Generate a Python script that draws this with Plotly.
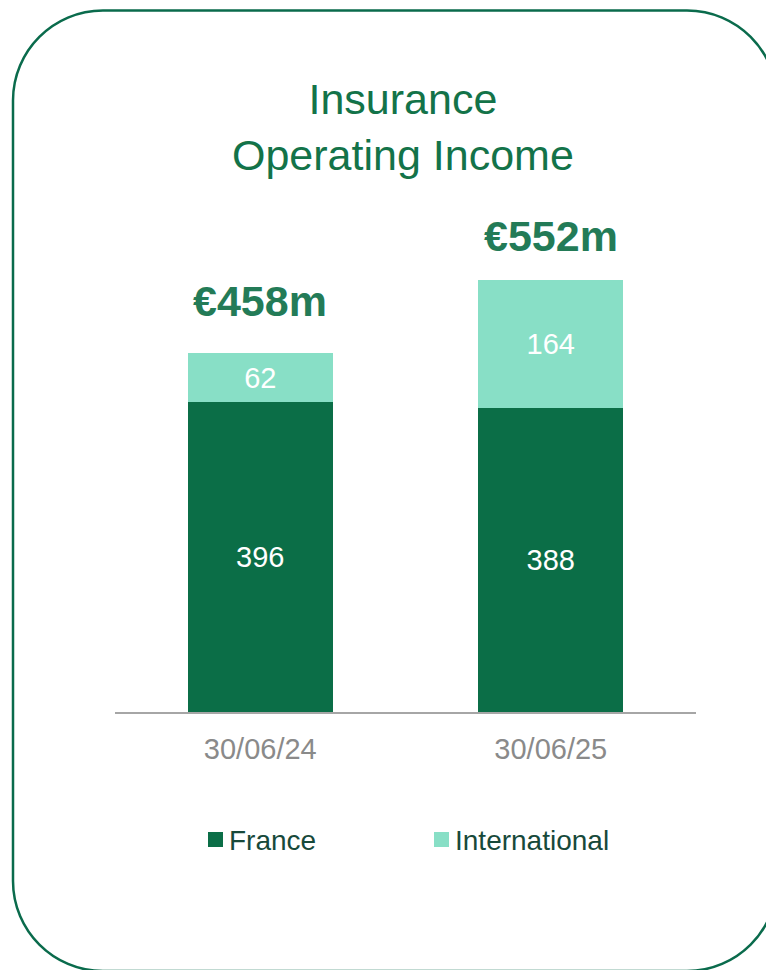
import plotly.graph_objects as go

# ---- data ----
categories = ["30/06/24", "30/06/25"]
france = [396, 388]
international = [62, 164]
totals = [458, 552]
total_labels = ["€458m", "€552m"]
series_names = ["France", "International"]

# ---- styling ----
OFF = 8  # page body margin
W, H = 774 - OFF, 970 - OFF
C_FR = "#0B6E47"
C_INT = "#88DFC6"
C_TITLE = "#137349"
C_TOTAL = "#237B57"
C_BORDER = "#0A6B4C"
C_TICK = "#8A8A8A"
C_LEG = "#17493A"
FONT = "Liberation Sans, Arial, sans-serif"

def px(x):
    return (x - OFF) / W

def py(y):
    return 1 - (y - OFF) / H

Y_MAX = 650
base_px = 712
scale = 0.7828
x_dom = [px(115), px(696)]
y_dom = [py(base_px), py(base_px - Y_MAX * scale)]

fig = go.Figure()
fig.add_trace(go.Bar(
    x=categories, y=france, name=series_names[0], marker_color=C_FR,
    marker_line_width=0, width=0.5,
    text=[str(v) for v in france], textposition="inside",
    insidetextanchor="middle", textangle=0,
    textfont=dict(color="white", size=29, family=FONT),
))
fig.add_trace(go.Bar(
    x=categories, y=international, name=series_names[1], marker_color=C_INT,
    marker_line_width=0, width=0.5,
    text=[str(v) for v in international], textposition="inside",
    insidetextanchor="middle", textangle=0,
    textfont=dict(color="white", size=29, family=FONT),
))

annotations = []
# totals above bars
for cat, tot, lab, shift in zip(categories, totals, total_labels, [52, 44]):
    annotations.append(dict(
        x=cat, y=tot, xref="x", yref="y", text=f"<b>{lab}</b>",
        showarrow=False, yshift=shift, yanchor="middle",
        font=dict(size=43, color=C_TOTAL, family=FONT),
    ))
# title
annotations.append(dict(
    x=px(403), y=py(127), xref="paper", yref="paper",
    text="Insurance<br>Operating Income", showarrow=False,
    xanchor="center", yanchor="middle", align="center",
    font=dict(size=43, color=C_TITLE, family=FONT),
))

shapes = []
# manual legend
leg_y = 840
for name, color, sx in [(series_names[0], C_FR, 208), (series_names[1], C_INT, 434)]:
    shapes.append(dict(
        type="rect", xref="paper", yref="paper",
        x0=px(sx), x1=px(sx + 15), y0=py(leg_y - 8), y1=py(leg_y + 7),
        fillcolor=color, line_width=0,
    ))
    annotations.append(dict(
        x=px(sx + 19), y=py(leg_y), xref="paper", yref="paper",
        text=name, showarrow=False, xanchor="left", yanchor="middle",
        font=dict(size=28, color=C_LEG, family=FONT),
    ))

# rounded border
L, T, R, B, r = 13, 10.5, 777, 971, 90
k = 0.5523 * r
pts = [
    ("M", [(L + r, T)]),
    ("L", [(R - r, T)]),
    ("C", [(R - r + k, T), (R, T + r - k), (R, T + r)]),
    ("L", [(R, B - r)]),
    ("C", [(R, B - r + k), (R - r + k, B), (R - r, B)]),
    ("L", [(L + r, B)]),
    ("C", [(L + r - k, B), (L, B - r + k), (L, B - r)]),
    ("L", [(L, T + r)]),
    ("C", [(L, T + r - k), (L + r - k, T), (L + r, T)]),
]
path = ""
for cmd, ps in pts:
    path += cmd + " ".join(f"{px(x):.5f},{py(y):.5f}" for x, y in ps)
path += "Z"
shapes.append(dict(type="path", xref="paper", yref="paper", path=path,
                   line=dict(color=C_BORDER, width=2.5), fillcolor="rgba(0,0,0,0)"))

fig.update_layout(
    width=W, height=H, autosize=False,
    margin=dict(l=0, r=0, t=0, b=0, pad=0),
    paper_bgcolor="white", plot_bgcolor="white",
    barmode="stack", bargap=0.5, showlegend=False,
    font=dict(family=FONT),
    annotations=annotations, shapes=shapes,
    xaxis=dict(domain=x_dom, range=[-0.5, 1.5], showgrid=False, zeroline=False,
               showline=True, linecolor="#A6A6A6", linewidth=2,
               ticks="outside", ticklen=10, tickcolor="rgba(0,0,0,0)",
               tickfont=dict(size=29, color=C_TICK, family=FONT)),
    yaxis=dict(domain=y_dom, range=[0, Y_MAX], visible=False, fixedrange=True),
    uniformtext=dict(mode=False),
)

fig.write_html("out.html")
